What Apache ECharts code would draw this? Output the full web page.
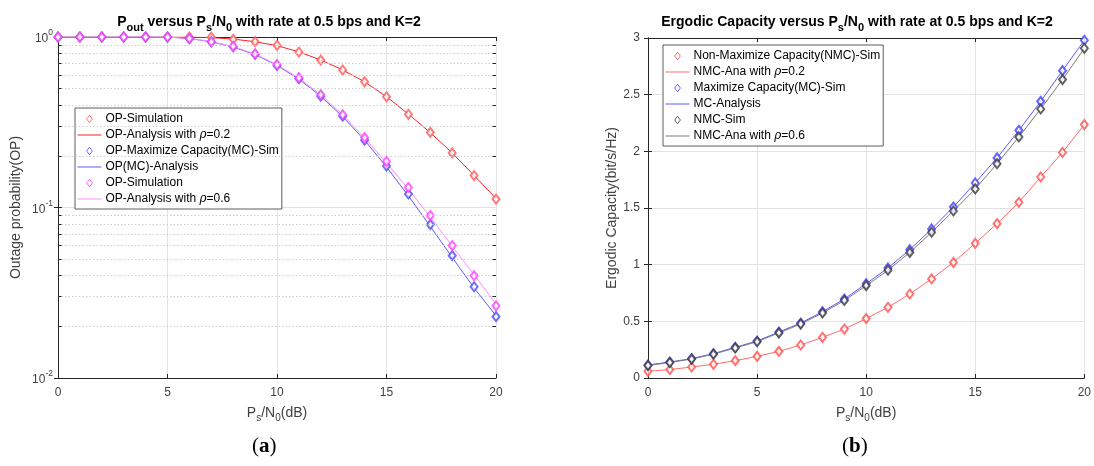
<!DOCTYPE html>
<html>
<head>
<meta charset="utf-8">
<script src="https://cdn.jsdelivr.net/npm/echarts@6/dist/echarts.min.js"></script>
<style>
html,body{margin:0;padding:0;background:#fff;}
#c{width:1094px;height:466px;}
</style>
</head>
<body>
<div id="c"></div>
<script>
// ---------- data ----------
const snr = [0,1,2,3,4,5,6,7,8,9,10,11,12,13,14,15,16,17,18,19,20];
const xTicks = [0,5,10,15,20];
const logTicks = [0.01,0.1,1];
const logMinor = [0.02,0.03,0.04,0.05,0.06,0.07,0.08,0.09,0.2,0.3,0.4,0.5,0.6,0.7,0.8,0.9];
const capTicks = [0,0.5,1,1.5,2,2.5,3];

// (a) outage probability
const opSimRho02 = [1,1,1,1,1,1,1.0,0.998,0.969,0.939,0.894,0.816,0.732,0.640,0.546,0.446,0.352,0.276,0.209,0.154,0.112];
const opAnaRho02 = [1,1,1,1,1,1,0.999,0.992,0.972,0.938,0.890,0.818,0.733,0.641,0.546,0.447,0.353,0.275,0.209,0.154,0.113];
const opSimMC    = [1,1,1,1,1,0.999,0.977,0.935,0.877,0.791,0.681,0.569,0.450,0.343,0.248,0.175,0.120,0.0794,0.0522,0.0343,0.0229];
const opAnaMC    = [1,1,1,1,1,0.998,0.980,0.937,0.873,0.789,0.682,0.566,0.449,0.341,0.248,0.173,0.117,0.0775,0.0510,0.0337,0.0232];
const opSimRho06 = [1,1,1,1,1,1,0.980,0.938,0.882,0.796,0.688,0.577,0.459,0.350,0.257,0.186,0.131,0.0897,0.0598,0.0398,0.0265];
const opAnaRho06 = [1,1,1,1,1,0.998,0.982,0.940,0.878,0.794,0.688,0.574,0.458,0.350,0.256,0.183,0.128,0.0880,0.0594,0.0402,0.0272];

// (b) ergodic capacity
const ecSimNMC02 = [0.059,0.074,0.097,0.121,0.153,0.191,0.235,0.291,0.359,0.432,0.524,0.624,0.741,0.874,1.02,1.188,1.362,1.55,1.774,1.99,2.236];
const ecAnaNMC02 = [0.059,0.074,0.097,0.121,0.153,0.191,0.235,0.291,0.359,0.432,0.524,0.624,0.741,0.874,1.02,1.188,1.362,1.55,1.774,1.99,2.236];
const ecSimMC    = [0.115,0.141,0.171,0.215,0.271,0.326,0.406,0.485,0.585,0.697,0.832,0.971,1.132,1.315,1.509,1.721,1.942,2.185,2.441,2.712,2.98];
const ecAnaMC    = [0.115,0.141,0.171,0.215,0.271,0.326,0.406,0.485,0.585,0.697,0.832,0.971,1.132,1.315,1.509,1.721,1.942,2.185,2.441,2.712,2.98];
const ecSimNMC06 = [0.11,0.137,0.167,0.21,0.265,0.32,0.398,0.476,0.574,0.684,0.815,0.951,1.108,1.286,1.474,1.668,1.891,2.127,2.374,2.633,2.909];
const ecAnaNMC06 = [0.11,0.137,0.167,0.21,0.265,0.32,0.398,0.476,0.574,0.684,0.815,0.951,1.108,1.286,1.474,1.668,1.891,2.127,2.374,2.633,2.909];

const legendA = ['OP-Simulation','OP-Analysis with {i|ρ}=0.2','OP-Maximize Capacity(MC)-Sim','OP(MC)-Analysis','OP-Simulation','OP-Analysis with {i|ρ}=0.6'];
const legendB = ['Non-Maximize Capacity(NMC)-Sim','NMC-Ana with {i|ρ}=0.2','Maximize Capacity(MC)-Sim','MC-Analysis','NMC-Sim','NMC-Ana with {i|ρ}=0.6'];

// ---------- helpers ----------
const FONT = 'Arial, "Liberation Sans", Helvetica, sans-serif';
const AX = '#262626';
const TICKC = '#404040';
const pairs = (arr) => snr.map((x, i) => [x, arr[i]]);

const legendLabels = {};
legendA.forEach((t, i) => legendLabels['a' + i] = t);
legendB.forEach((t, i) => legendLabels['b' + i] = t);

const DIAMOND_ICON = 'path://M0,0M24,8M12,0.2L14.9,4L12,7.8L9.1,4Z';
const LINE_ICON = 'path://M0,0M24,8M0,3.5L24,3.5L24,4.5L0,4.5Z';
const colorsA = ['#ff5a5a','#ff2020','#4a4aff','#5a5aff','#ff40ff','#ff8cff'];
const colorsB = ['#ff5050','#ff6a6a','#3c3cff','#5a5aff','#3a3a3a','#7a7a7a'];

function legendItem(id, color, isSim) {
  return isSim
    ? { name: id, icon: DIAMOND_ICON, itemStyle: { color: 'rgba(255,255,255,0)', borderColor: color, borderWidth: 1 } }
    : { name: id, icon: LINE_ICON, itemStyle: { color: color, borderWidth: 0 } };
}

function simSeries(id, data, color, xi, yi) {
  return {
    name: id, type: 'scatter', xAxisIndex: xi, yAxisIndex: yi,
    data: pairs(data), symbol: 'emptyDiamond', symbolSize: [7, 9],
    itemStyle: { color: color, borderColor: color, borderWidth: 1 },
    z: 4, silent: true
  };
}
function lineSeries(id, data, color, xi, yi) {
  return {
    name: id, type: 'line', xAxisIndex: xi, yAxisIndex: yi,
    data: pairs(data), symbol: 'none', showSymbol: false,
    lineStyle: { color: color, width: 1 }, itemStyle: { color: color },
    z: 3, silent: true
  };
}

const textRich = {
  n: { fontSize: 14, fontFamily: FONT, color: TICKC, lineHeight: 16, verticalAlign: 'top' },
  s: { fontSize: 10, fontFamily: FONT, color: TICKC, lineHeight: 10, padding: [8, 0, 0, 0] }
};
const titleRich = {
  n: { fontSize: 14, fontWeight: 'bold', fontFamily: FONT, color: '#000', lineHeight: 16, verticalAlign: 'top' },
  s: { fontSize: 11, fontWeight: 'bold', fontFamily: FONT, color: '#000', lineHeight: 10, padding: [9, 0, 0, 0] }
};
const supRich = {
  b: { fontSize: 12, fontFamily: FONT, color: TICKC, lineHeight: 16, verticalAlign: 'bottom' },
  p: { fontSize: 8.5, fontFamily: FONT, color: TICKC, lineHeight: 8, padding: [0, 0, 8, 0] }
};
const legendRich = {
  t: { fontSize: 12, fontFamily: FONT, color: '#000' },
  i: { fontSize: 12, fontFamily: '"DejaVu Serif", "Liberation Serif", serif', fontStyle: 'italic', color: '#000' }
};

function legendFormatter(name) {
  const raw = legendLabels[name];
  return raw.split(/(\{i\|ρ\})/).map(p => p === '{i|ρ}' ? p : (p ? '{t|' + p + '}' : '')).join('');
}

// minor grid/ticks for log axis
function minorSeries() {
  const grid = logMinor.map(v => [{ coord: [0, v] }, { coord: [20, v] }]);
  const tl = logMinor.map(v => [{ coord: [0, v] }, { coord: [0.16, v] }]);
  const tr = logMinor.map(v => [{ coord: [19.84, v] }, { coord: [20, v] }]);
  return [
    { type: 'line', xAxisIndex: 0, yAxisIndex: 0, data: [], silent: true, z: 1,
      markLine: { silent: true, symbol: 'none', animation: false, label: { show: false },
        lineStyle: { color: '#cfcfcf', type: [1.5, 2], width: 1 }, data: grid } },
    { type: 'line', xAxisIndex: 0, yAxisIndex: 0, data: [], silent: true, z: 6,
      markLine: { silent: true, symbol: 'none', animation: false, label: { show: false },
        lineStyle: { color: AX, type: 'solid', width: 1 }, data: tl.concat(tr) } }
  ];
}

const xBase = {
  type: 'value', min: 0, max: 20, interval: 5,
  axisLine: { show: true, onZero: false, lineStyle: { color: AX, width: 1 } },
  axisTick: { show: true, inside: true, length: 4, lineStyle: { color: AX } },
  splitLine: { show: false }
};

const legendBase = {
  orient: 'vertical', itemWidth: 24, itemHeight: 8, itemGap: 4, padding: [5, 3, 4, 2],
  borderColor: '#333', borderWidth: 0.8, backgroundColor: '#fff',
  selectedMode: false, formatter: legendFormatter, textStyle: { rich: legendRich, padding: [0,0,0,-1] }
};

const option = {
  animation: false,
  backgroundColor: '#fff',
  title: [
    { text: '{n|P}{s|out}{n| versus P}{s|s}{n|/N}{s|0}{n| with rate at 0.5 bps and K=2}',
      left: 264, top: 10, textAlign: 'center', textStyle: { rich: titleRich } },
    { text: '{n|Ergodic Capacity versus P}{s|s}{n|/N}{s|0}{n| with rate at 0.5 bps and K=2}',
      left: 852, top: 10, textAlign: 'center', textStyle: { rich: titleRich } }
  ],
  grid: [
    { left: 58, top: 37, width: 438, height: 341 },
    { left: 648, top: 38, width: 437, height: 340 }
  ],
  xAxis: [
    Object.assign({}, xBase, { gridIndex: 0, position: 'bottom',
      splitLine: { show: true, lineStyle: { color: '#e3e3e3', width: 1 } },
      axisLabel: { show: true, color: TICKC, fontSize: 12, fontFamily: FONT, margin: 9, showMaxLabel: true, showMinLabel: true },
      name: '{n|P}{s|s}{n|/N}{s|0}{n|(dB)}', nameLocation: 'middle', nameGap: 28,
      nameTextStyle: { rich: textRich } }),
    Object.assign({}, xBase, { gridIndex: 0, position: 'top', axisLabel: { show: false } }),
    Object.assign({}, xBase, { gridIndex: 1, position: 'bottom',
      splitLine: { show: true, lineStyle: { color: '#e3e3e3', width: 1 } },
      axisLabel: { show: true, color: TICKC, fontSize: 12, fontFamily: FONT, margin: 9, showMaxLabel: true, showMinLabel: true },
      name: '{n|P}{s|s}{n|/N}{s|0}{n|(dB)}', nameLocation: 'middle', nameGap: 28,
      nameTextStyle: { rich: textRich } }),
    Object.assign({}, xBase, { gridIndex: 1, position: 'top', axisLabel: { show: false } })
  ],
  yAxis: [
    { type: 'log', logBase: 10, min: 0.01, max: 1, gridIndex: 0, position: 'left',
      axisLine: { show: true, lineStyle: { color: AX } },
      axisTick: { show: true, inside: true, length: 4, lineStyle: { color: AX } },
      splitLine: { show: true, lineStyle: { color: '#e3e3e3' } },
      axisLabel: { color: TICKC, margin: 5, rich: supRich,
        formatter: v => '{b|10}{p|' + Math.round(Math.log10(v)) + '}' },
      name: 'Outage probability(OP)', nameLocation: 'middle', nameGap: 35,
      nameTextStyle: { fontSize: 14, fontFamily: FONT, color: TICKC } },
    { type: 'log', logBase: 10, min: 0.01, max: 1, gridIndex: 0, position: 'right',
      axisLine: { show: true, lineStyle: { color: AX } },
      axisTick: { show: true, inside: true, length: 4, lineStyle: { color: AX } },
      splitLine: { show: false }, axisLabel: { show: false } },
    { type: 'value', min: 0, max: 3, interval: 0.5, gridIndex: 1, position: 'left',
      axisLine: { show: true, lineStyle: { color: AX } },
      axisTick: { show: true, inside: true, length: 4, lineStyle: { color: AX } },
      splitLine: { show: true, lineStyle: { color: '#e3e3e3' } },
      axisLabel: { color: TICKC, fontSize: 12, fontFamily: FONT, margin: 8 },
      name: 'Ergodic Capacity(bit/s/Hz)', nameLocation: 'middle', nameGap: 27,
      nameTextStyle: { fontSize: 14, fontFamily: FONT, color: TICKC } },
    { type: 'value', min: 0, max: 3, interval: 0.5, gridIndex: 1, position: 'right',
      axisLine: { show: true, lineStyle: { color: AX } },
      axisTick: { show: true, inside: true, length: 4, lineStyle: { color: AX } },
      splitLine: { show: false }, axisLabel: { show: false } }
  ],
  legend: [
    Object.assign({}, legendBase, { left: 75, top: 108,
      data: ['a0','a1','a2','a3','a4','a5'].map((id, i) => legendItem(id, colorsA[i], i % 2 === 0)) }),
    Object.assign({}, legendBase, { left: 663, top: 45,
      data: ['b0','b1','b2','b3','b4','b5'].map((id, i) => legendItem(id, colorsB[i], i % 2 === 0)) })
  ],
  graphic: [
    { type: 'text', left: 252, top: 436, style: { text: '({b|a})', font: '21px "Liberation Serif", serif', fill: '#000',
      rich: { b: { fontSize: 21, fontWeight: 'bold', fontFamily: '"Liberation Serif", serif', fill: '#000' } } } },
    { type: 'text', left: 842, top: 436, style: { text: '({b|b})', font: '21px "Liberation Serif", serif', fill: '#000',
      rich: { b: { fontSize: 21, fontWeight: 'bold', fontFamily: '"Liberation Serif", serif', fill: '#000' } } } }
  ],
  series: [].concat(minorSeries(), [
    simSeries('a0', opSimRho02, colorsA[0], 0, 0),
    lineSeries('a1', opAnaRho02, colorsA[1], 0, 0),
    simSeries('a2', opSimMC, colorsA[2], 0, 0),
    lineSeries('a3', opAnaMC, colorsA[3], 0, 0),
    simSeries('a4', opSimRho06, colorsA[4], 0, 0),
    lineSeries('a5', opAnaRho06, colorsA[5], 0, 0),
    simSeries('b0', ecSimNMC02, colorsB[0], 2, 2),
    lineSeries('b1', ecAnaNMC02, colorsB[1], 2, 2),
    simSeries('b2', ecSimMC, colorsB[2], 2, 2),
    lineSeries('b3', ecAnaMC, colorsB[3], 2, 2),
    simSeries('b4', ecSimNMC06, colorsB[4], 2, 2),
    lineSeries('b5', ecAnaNMC06, colorsB[5], 2, 2)
  ])
};

const chart = echarts.init(document.getElementById('c'), null, { renderer: 'canvas' });
chart.setOption(option);
</script>
</body>
</html>
